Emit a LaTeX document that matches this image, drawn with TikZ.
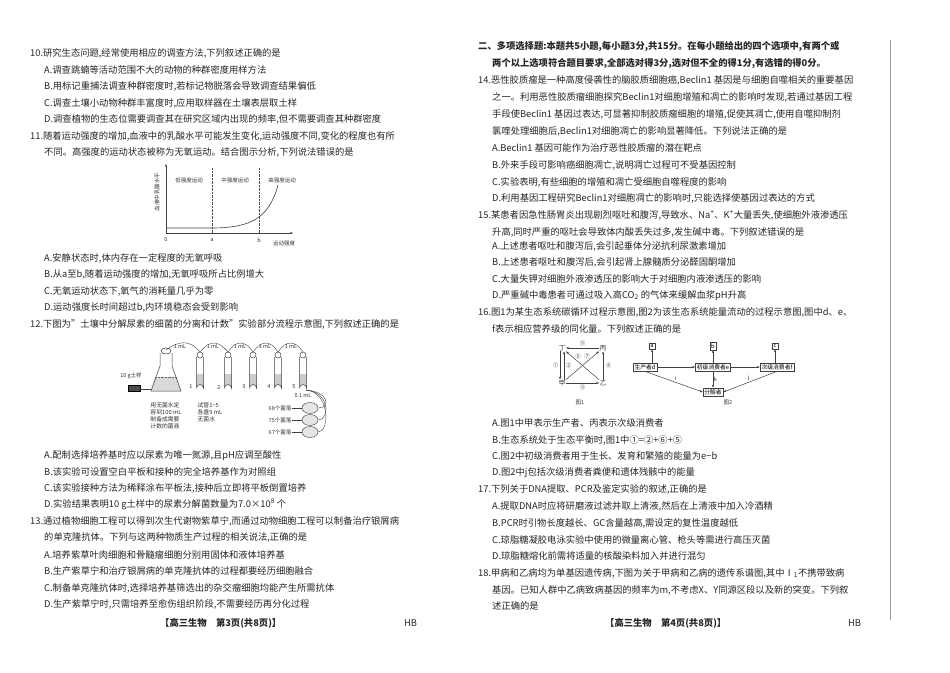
\documentclass[tikz,border=0pt]{standalone}
\usepackage{fontspec}
\setmainfont{Noto Sans CJK SC}
\usetikzlibrary{arrows.meta,calc,shapes.geometric}
\begin{document}
\begin{tikzpicture}[x=1pt,y=-1pt,
 t/.style={anchor=base west,inner sep=0pt,font=\fontsize{9.3}{11}\selectfont,text=black!85},
 s/.style={inner sep=0.5pt,font=\fontsize{5.5}{6.5}\selectfont,text=black!80},
 sb/.style={draw=black!75,inner sep=1.5pt,font=\fontsize{5.8}{6.5}\selectfont},
 ar/.style={-{Stealth[length=3pt]},black!75,line width=0.5pt},
 tube/.style={draw=black!75,line width=0.5pt}]
\useasboundingbox[fill=white] (0,0) rectangle (950,672);
\draw[black!40,line width=0.6pt] (890,40) -- (890,620);
% ---------- left column
\node[t] (q10) at (30,56) {10.研究生态问题,经常使用相应的调查方法,下列叙述正确的是};
\node[t] (q10a) at (44,73) {A.调查跳蝻等活动范围不大的动物的种群密度用样方法};
\node[t] (q10b) at (44,89) {B.用标记重捕法调查种群密度时,若标记物脱落会导致调查结果偏低};
\node[t] (q10c) at (44,106) {C.调查土壤小动物种群丰富度时,应用取样器在土壤表层取土样};
\node[t] (q10d) at (44,122) {D.调查植物的生态位需要调查其在研究区域内出现的频率,但不需要调查其种群密度};
\node[t] (q11) at (30,139) {11.随着运动强度的增加,血液中的乳酸水平可能发生变化,运动强度不同,变化的程度也有所};
\node[t] (q11b) at (44,155) {不同。高强度的运动状态被称为无氧运动。结合图示分析,下列说法错误的是};
% graph
\coordinate (o) at (166,233);
\coordinate (ytop) at (166,164);
\coordinate (xend) at (293,233);
\draw[ar] (o) -- (ytop);
\draw[ar] (o) -- (xend);
\draw[densely dotted,black!70] (212,168) -- (212,233);
\draw[densely dotted,black!70] (259,168) -- (259,233);
\draw[black!75,line width=0.6pt] (166,228) -- (212,228) .. controls (235,228) and (250,224) .. (259,217) .. controls (268,210) and (274,200) .. (278,185);
\node[s,rotate=90] (ylab) at (157,192) {血液中乳酸水平};
\node[s] (g1) at (189,180) {低强度运动};
\node[s] (g2) at (235,180) {中强度运动};
\node[s] (g3) at (282,180) {高强度运动};
\node[s] (l0) at (166,240) {0};
\node[s] (la) at (212,240) {a};
\node[s] (lb) at (259,240) {b};
\node[s] (lx) at (284,243) {运动强度};
\node[t] (q11A) at (44,261) {A.安静状态时,体内存在一定程度的无氧呼吸};
\node[t] (q11B) at (44,277) {B.从a至b,随着运动强度的增加,无氧呼吸所占比例增大};
\node[t] (q11C) at (44,294) {C.无氧运动状态下,氧气的消耗量几乎为零};
\node[t] (q11D) at (44,310) {D.运动强度长时间超过b,内环境稳态会受到影响};
\node[t] (q12) at (30,327) {12.下图为"土壤中分解尿素的细菌的分离和计数"实验部分流程示意图,下列叙述正确的是};
% flask
\fill[black!15] (155,377) -- (177,377) -- (181,391) -- (151,391) -- cycle;
\draw[tube] (160,353) -- (160,366) -- (151,391) -- (181,391) -- (172,366) -- (172,353);
\draw[tube,fill=white] (166,351) ellipse (5 and 3);
\draw[black!60,densely dotted] (155,377) -- (177,377);
\coordinate (fl) at (166,350);
% balance
\draw[fill=black!70] (128,385) rectangle (140,391);
\draw[black!75] (140,389) -- (151,389);
\node[s] (soil) at (131,376) {10 g土样};
\node[s,align=left,font=\fontsize{5.8}{7}\selectfont] (fltext) at (166,416) {用无菌水定\\容到100 mL\\制备成需要\\计数的菌液};
% tubes
\foreach \i/\x in {1/200,2/228,3/253,4/278,5/303}{
  \fill[black!20] (\x-3.5,374) -- (\x-3.5,388) arc (180:360:3.5) -- (\x+3.5,374) -- cycle;
  \draw[tube] (\x-3.5,357) -- (\x-3.5,388) arc (180:360:3.5) -- (\x+3.5,357);
  \draw[tube,fill=white] (\x,355) circle (3);
  \coordinate (tb\i) at (\x,352);
  \node[s] (n\i) at (\x-9,387) {\i};
}
\draw[black!75] (fl) .. controls (180,340) and (190,340) .. (tb1);
\draw[black!75] (tb1) .. controls (210,340) and (218,340) .. (tb2);
\draw[black!75] (tb2) .. controls (236,340) and (245,340) .. (tb3);
\draw[black!75] (tb3) .. controls (262,340) and (270,340) .. (tb4);
\draw[black!75] (tb4) .. controls (286,340) and (295,340) .. (tb5);
\node[s] (m1) at (180,346) {1 mL};
\node[s] (m2) at (213,346) {1 mL};
\node[s] (m3) at (240,346) {1 mL};
\node[s] (m4) at (265,346) {1 mL};
\node[s] (m5) at (291,346) {1 mL};
\node[s,align=left,font=\fontsize{5.8}{7}\selectfont] (tubetext) at (210,412) {试管1\textasciitilde 5\\各盛9 mL\\无菌水};
\node[s] (m01) at (303,396) {0.1 mL};
\foreach \i/\y/\c in {1/408/68,2/420/75,3/432/67}{
  \node[draw=black!75,ellipse,minimum width=16pt,minimum height=11pt,inner sep=0pt,fill=black!10] (p\i) at (310,\y) {};
  \node[s] (pl\i) at (280,\y) {\c 个菌落};
  \draw[black!75] (pl\i.east) -- (p\i.west);
  \draw[black!75] (306,390) .. controls (330,392) and (330,\y) .. (p\i.east);
}
\node[t] (q12A) at (44,458) {A.配制选择培养基时应以尿素为唯一氮源,且pH应调至酸性};
\node[t] (q12B) at (44,475) {B.该实验可设置空白平板和接种的完全培养基作为对照组};
\node[t] (q12C) at (44,491) {C.该实验接种方法为稀释涂布平板法,接种后立即将平板倒置培养};
\node[t] (q12D) at (44,507) {D.实验结果表明10 g土样中的尿素分解菌数量为7.0×10\textsuperscript{8} 个};
\node[t] (q13) at (30,524) {13.通过植物细胞工程可以得到次生代谢物紫草宁,而通过动物细胞工程可以制备治疗银屑病};
\node[t] (q13b) at (44,540) {的单克隆抗体。下列与这两种物质生产过程的相关说法,正确的是};
\node[t] (q13A) at (44,558) {A.培养紫草叶肉细胞和骨髓瘤细胞分别用固体和液体培养基};
\node[t] (q13B) at (44,574) {B.生产紫草宁和治疗银屑病的单克隆抗体的过程都要经历细胞融合};
\node[t] (q13C) at (44,591) {C.制备单克隆抗体时,选择培养基筛选出的杂交瘤细胞均能产生所需抗体};
\node[t] (q13D) at (44,607) {D.生产紫草宁时,只需培养至愈伤组织阶段,不需要经历再分化过程};
\node[t] (f3) at (160,626) {\bfseries【高三生物\quad 第3页(共8页)】};
\node[t] (hb3) at (404,626) {HB};
% ---------- right column
\node[t] (h2) at (478,49) {\bfseries 二、多项选择题:本题共5小题,每小题3分,共15分。在每小题给出的四个选项中,有两个或};
\node[t] (h2b) at (492,66) {\bfseries 两个以上选项符合题目要求,全部选对得3分,选对但不全的得1分,有选错的得0分。};
\node[t] (q14) at (478,83) {14.恶性胶质瘤是一种高度侵袭性的脑胶质细胞癌,\textit{Beclin1} 基因是与细胞自噬相关的重要基因};
\node[t] (q14b) at (492,100) {之一。利用恶性胶质瘤细胞探究Beclin1对细胞增殖和凋亡的影响时发现,若通过基因工程};
\node[t] (q14c) at (492,117) {手段使\textit{Beclin1} 基因过表达,可显著抑制胶质瘤细胞的增殖,促使其凋亡,使用自噬抑制剂};
\node[t] (q14d) at (492,134) {氯喹处理细胞后,Beclin1对细胞凋亡的影响显著降低。下列说法正确的是};
\node[t] (q14A) at (492,151) {A.\textit{Beclin1} 基因可能作为治疗恶性胶质瘤的潜在靶点};
\node[t] (q14B) at (492,168) {B.外来手段可影响癌细胞凋亡,说明凋亡过程可不受基因控制};
\node[t] (q14C) at (492,185) {C.实验表明,有些细胞的增殖和凋亡受细胞自噬程度的影响};
\node[t] (q14D) at (492,201) {D.利用基因工程研究Beclin1对细胞凋亡的影响时,只能选择使基因过表达的方式};
\node[t] (q15) at (478,218) {15.某患者因急性肠胃炎出现剧烈呕吐和腹泻,导致水、Na\textsuperscript{+}、K\textsuperscript{+}大量丢失,使细胞外液渗透压};
\node[t] (q15b) at (492,235) {升高,同时严重的呕吐会导致体内酸丢失过多,发生碱中毒。下列叙述错误的是};
\node[t] (q15A) at (492,249) {A.上述患者呕吐和腹泻后,会引起垂体分泌抗利尿激素增加};
\node[t] (q15B) at (492,265) {B.上述患者呕吐和腹泻后,会引起肾上腺髓质分泌醛固酮增加};
\node[t] (q15C) at (492,282) {C.大量失钾对细胞外液渗透压的影响大于对细胞内液渗透压的影响};
\node[t] (q15D) at (492,298) {D.严重碱中毒患者可通过吸入高CO\textsubscript{2} 的气体来缓解血浆pH升高};
\node[t] (q16) at (478,315) {16.图1为某生态系统碳循环过程示意图,图2为该生态系统能量流动的过程示意图,图中d、e、};
\node[t] (q16b) at (492,332) {f表示相应营养级的同化量。下列叙述正确的是};
% fig 1
\node[s,font=\fontsize{6.5}{7}\selectfont] (ding) at (562,348) {丁};
\node[s,font=\fontsize{6.5}{7}\selectfont] (bing) at (603,348) {丙};
\node[s,font=\fontsize{6.5}{7}\selectfont] (jia) at (562,383) {甲};
\node[s,font=\fontsize{6.5}{7}\selectfont] (yi) at (603,383) {乙};
\draw[ar] (bing) -- node[s,above=1pt] {⑤} (ding);
\draw[ar] ([xshift=-2pt]ding.south) -- node[s,left=1pt] {①} ([xshift=-2pt]jia.north);
\draw[ar] ([xshift=2pt]jia.north) -- node[s,right=1pt] {②} ([xshift=2pt]ding.south);
\draw[ar] (yi) -- node[s,right=2pt] {④} (bing);
\draw[ar] (jia) -- node[s,below=1pt] {③} (yi);
\draw[ar] (yi) -- (ding);
\draw[ar] (jia) -- (bing);
\node[s] (c6) at (578,356) {⑥};
\node[s] (c7) at (587,356) {⑦};
\node[s] (t1) at (580,403) {图1};
% fig 2
\node[sb] (ba) at (652,346) {a};
\node[sb] (bb) at (713,346) {b};
\node[sb] (bc) at (775,346) {c};
\node[sb] (pd) at (645,367) {生产者d};
\node[sb] (pe) at (713,367) {初级消费者e};
\node[sb] (pf) at (777,367) {次级消费者f};
\node[sb] (dec) at (713,392) {分解者};
\draw[ar] (pd.north -| ba) -- (ba);
\draw[ar] (pe) -- (bb);
\draw[ar] (pf.north -| bc) -- (bc);
\draw[ar] (pd) -- (pe);
\draw[ar] (pe) -- (pf);
\draw[ar] (pd.south) -- node[s,above right=0pt] {i} (dec.west);
\draw[ar] (pe) -- node[s,right=0pt] {k} (dec);
\draw[ar] (pf.south) -- node[s,above left=0pt] {j} (dec.east);
\node[s] (t2) at (728,403) {图2};
\node[t] (q16A) at (492,426) {A.图1中甲表示生产者、丙表示次级消费者};
\node[t] (q16B) at (492,443) {B.生态系统处于生态平衡时,图1中①=②+⑥+⑤};
\node[t] (q16C) at (492,459) {C.图2中初级消费者用于生长、发育和繁殖的能量为e−b};
\node[t] (q16D) at (492,475) {D.图2中j包括次级消费者粪便和遗体残骸中的能量};
\node[t] (q17) at (478,492) {17.下列关于DNA提取、PCR及鉴定实验的叙述,正确的是};
\node[t] (q17A) at (492,509) {A.提取DNA时应将研磨液过滤并取上清液,然后在上清液中加入冷酒精};
\node[t] (q17B) at (492,526) {B.PCR时引物长度越长、GC含量越高,需设定的复性温度越低};
\node[t] (q17C) at (492,543) {C.琼脂糖凝胶电泳实验中使用的微量离心管、枪头等需进行高压灭菌};
\node[t] (q17D) at (492,559) {D.琼脂糖熔化前需将适量的核酸染料加入并进行混匀};
\node[t] (q18) at (478,576) {18.甲病和乙病均为单基因遗传病,下图为关于甲病和乙病的遗传系谱图,其中Ⅰ\textsubscript{1}不携带致病};
\node[t] (q18b) at (492,593) {基因。已知人群中乙病致病基因的频率为\textit{m},不考虑X、Y同源区段以及新的突变。下列叙};
\node[t] (q18c) at (492,609) {述正确的是};
\node[t] (f4) at (605,626) {\bfseries【高三生物\quad 第4页(共8页)】};
\node[t] (hb4) at (848,626) {HB};
\end{tikzpicture}
\end{document}
